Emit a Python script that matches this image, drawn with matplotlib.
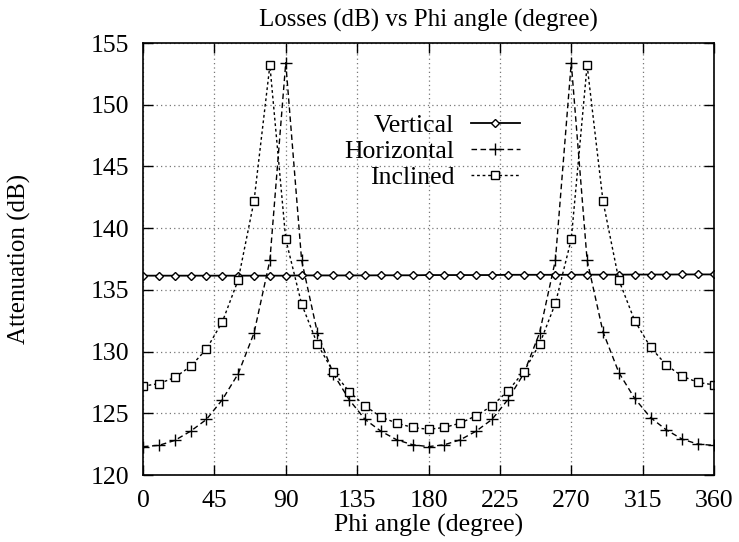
import matplotlib
matplotlib.use("Agg")
import matplotlib.pyplot as plt

angles = list(range(0, 361, 10))
vertical = [136.15, 136.15, 136.15, 136.15, 136.15, 136.15, 136.15, 136.15, 136.15, 136.15,
            136.17, 136.17, 136.17, 136.17, 136.17, 136.18, 136.18, 136.18, 136.2, 136.2,
            136.2, 136.2, 136.2, 136.22, 136.22, 136.22, 136.22, 136.22, 136.23, 136.23,
            136.23, 136.24, 136.24, 136.24, 136.25, 136.25, 136.25]
horizontal = [122.3, 122.4, 122.8, 123.55, 124.5, 126.1, 128.2, 131.5, 137.4, 153.4,
              137.4, 131.5, 128.2, 126.1, 124.5, 123.55, 122.85, 122.45, 122.3, 122.45,
              122.85, 123.55, 124.5, 126.1, 128.2, 131.5, 137.4, 153.4, 137.4, 131.6,
              128.3, 126.2, 124.65, 123.65, 122.9, 122.5, 122.4]
inclined = [127.2, 127.4, 127.9, 128.8, 130.2, 132.4, 135.8, 142.2, 153.2, 139.1,
            133.85, 130.6, 128.35, 126.75, 125.6, 124.7, 124.2, 123.85, 123.7, 123.85,
            124.2, 124.8, 125.6, 126.8, 128.35, 130.6, 133.9, 139.1, 153.2, 142.2,
            135.8, 132.5, 130.35, 128.9, 128.0, 127.5, 127.3]
series_names = ["Vertical", "Horizontal", "Inclined"]
x_ticks = [0, 45, 90, 135, 180, 225, 270, 315, 360]
y_ticks = [120, 125, 130, 135, 140, 145, 150, 155]

plt.rcParams['font.family'] = ['Liberation Serif', 'DejaVu Serif']

fig = plt.figure(figsize=(7.39, 5.42), dpi=100)
ax = fig.add_axes([143/739, 1-475/542, (714-143)/739, (475-43)/542])

ax.plot(angles, vertical, color='black', lw=1.3, ls='-', marker='D',
        ms=4.5, mfc='white', mec='black', mew=1.0, label=series_names[0])
ax.plot(angles, horizontal, color='black', lw=1.0, ls=(0, (4, 2.5)), marker='+',
        ms=8, mec='black', mew=1.0, label=series_names[1])
ax.plot(angles, inclined, color='black', lw=1.0, ls=(0, (2, 2)), marker='s',
        ms=6, mfc='white', mec='black', mew=1.0, label=series_names[2])

ax.set_xlim(0, 360)
ax.set_ylim(120, 155)
ax.set_xticks(x_ticks)
ax.set_yticks(y_ticks)
ax.grid(True, color='#777777', ls=(0, (1, 2.5)), lw=0.9)
ax.tick_params(direction='in', length=7, width=1, top=True, right=True,
               labelsize=18.5, pad=10)
ax.tick_params(axis='x', pad=11)
for s in ax.spines.values():
    s.set_linewidth(1.2)

ax.set_title("Losses (dB) vs Phi angle (degree)", fontsize=18, pad=12)
ax.set_xlabel("Phi angle (degree)", fontsize=18.5, labelpad=1.5)
ax.set_ylabel("Attenuation (dB)", fontsize=18)
ax.yaxis.set_label_coords(-0.196, 0.5)

leg = ax.legend(loc='upper right', bbox_to_anchor=(0.66, 0.835), frameon=False,
                markerfirst=False, fontsize=18.5, borderpad=0, borderaxespad=0,
                handlelength=1.9, handletextpad=0.65, labelspacing=0.12)

fig.savefig("out.png", dpi=100)
